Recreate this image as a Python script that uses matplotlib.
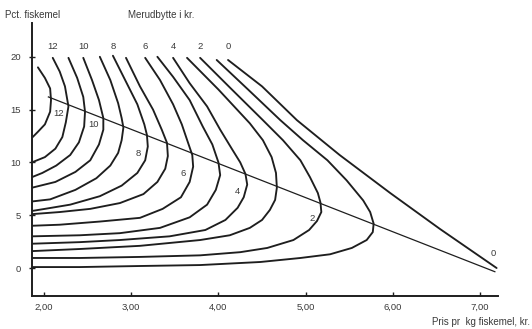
import numpy as np
import matplotlib
matplotlib.use("Agg")
import matplotlib.pyplot as plt

plt.rcParams['font.family'] = ['Liberation Sans', 'DejaVu Sans']

# ---- data, x = price per kg fishmeal (kr), y = pct fishmeal
curve_0 = [(4.11, 19.7), (4.50, 17.2), (4.90, 14.0), (5.39, 10.7), (5.97, 7.1), (6.54, 3.7), (7.19, 0.0)]
curve_1 = [(3.98, 19.7), (4.34, 16.9), (4.71, 14.0), (4.97, 12.1), (5.25, 10.2), (5.47, 8.3), (5.66, 6.4),
           (5.74, 5.3), (5.78, 4.2), (5.77, 3.4), (5.70, 2.65), (5.53, 1.9), (5.28, 1.3), (4.94, 0.95),
           (4.48, 0.57), (3.79, 0.28), (3.10, 0.19), (2.41, 0.09), (1.86, 0.09)]
curve_2 = [(3.79, 19.9), (4.13, 17.1), (4.51, 14.0), (4.74, 12.1), (4.94, 10.2), (5.05, 8.6), (5.14, 7.1),
           (5.17, 6.2), (5.18, 5.3), (5.13, 4.45), (5.04, 3.6), (4.86, 2.65), (4.56, 1.9), (4.25, 1.5),
           (3.79, 1.2), (3.10, 1.05), (2.41, 0.95), (1.86, 0.95)]
curve_3 = [(3.64, 19.9), (4.00, 16.9), (4.36, 13.7), (4.51, 12.1), (4.61, 10.5), (4.66, 9.0), (4.67, 7.6),
           (4.65, 6.45), (4.59, 5.5), (4.50, 4.55), (4.36, 3.8), (4.13, 3.1), (3.79, 2.65), (3.10, 2.1),
           (2.41, 1.8), (1.86, 1.6)]
curve_4 = [(3.48, 19.9), (3.67, 17.5), (3.87, 15.3), (4.02, 13.1), (4.16, 11.2), (4.25, 10.0), (4.31, 8.9),
           (4.33, 7.9), (4.29, 6.7), (4.22, 5.7), (4.08, 4.55), (3.85, 3.6), (3.44, 3.0), (2.87, 2.65),
           (2.41, 2.45), (1.86, 2.3)]
curve_5 = [(3.30, 20.0), (3.48, 18.1), (3.67, 15.9), (3.82, 13.4), (3.93, 11.7), (4.00, 10.0), (4.02, 8.8),
           (3.97, 7.4), (3.87, 6.0), (3.67, 4.8), (3.33, 3.8), (2.87, 3.3), (2.41, 3.1), (1.86, 3.0)]
curve_6 = [(3.16, 19.9), (3.33, 17.8), (3.48, 15.5), (3.58, 13.6), (3.65, 11.9), (3.70, 10.7), (3.71, 9.6),
           (3.67, 8.15), (3.57, 6.7), (3.36, 5.6), (3.10, 4.75), (2.64, 4.4), (2.18, 4.1), (1.86, 4.0)]
curve_7 = [(2.94, 19.9), (3.10, 17.2), (3.25, 15.0), (3.35, 13.1), (3.41, 11.85), (3.42, 10.6), (3.39, 9.4),
           (3.30, 8.15), (3.14, 7.0), (2.87, 6.15), (2.53, 5.6), (2.18, 5.3), (1.86, 5.1)]
curve_8 = [(2.79, 20.1), (2.93, 17.8), (3.07, 15.5), (3.15, 13.6), (3.18, 12.6), (3.19, 11.5), (3.16, 10.2),
           (3.07, 9.0), (2.89, 7.8), (2.64, 6.8), (2.30, 6.0), (2.01, 5.6), (1.86, 5.4)]
curve_9 = [(2.64, 20.0), (2.76, 17.8), (2.85, 15.6), (2.89, 14.2), (2.91, 13.3), (2.89, 12.1), (2.85, 10.9),
           (2.76, 9.7), (2.60, 8.5), (2.36, 7.4), (2.07, 6.5), (1.86, 6.3)]
curve_10 = [(2.45, 19.9), (2.55, 17.8), (2.63, 15.9), (2.68, 14.2), (2.68, 13.1), (2.63, 11.7), (2.53, 10.2),
            (2.36, 9.1), (2.13, 8.15), (1.86, 7.6)]
curve_11 = [(2.28, 19.9), (2.38, 18.0), (2.45, 16.2), (2.47, 14.8), (2.46, 13.4), (2.40, 11.9), (2.30, 10.7),
            (2.14, 9.7), (1.98, 9.0), (1.86, 8.6)]
curve_12 = [(2.10, 19.9), (2.18, 18.6), (2.24, 17.2), (2.28, 15.3), (2.25, 13.8), (2.21, 12.4), (2.13, 11.3),
            (2.01, 10.5), (1.86, 10.0)]
curve_13 = [(1.93, 19.0), (2.01, 18.0), (2.07, 17.0), (2.08, 15.9), (2.07, 14.8), (2.01, 13.6), (1.93, 12.9),
            (1.87, 12.4)]
ridge_line = [(2.05, 16.2), (7.17, -0.35)]

curves = [curve_0, curve_1, curve_2, curve_3, curve_4, curve_5, curve_6, curve_7,
          curve_8, curve_9, curve_10, curve_11, curve_12, curve_13]
labelled = [12, 10, 8, 6, 4, 2, 0]

x_ticks = [2, 3, 4, 5, 6, 7]
x_ticklabels = ["2,00", "3,00", "4,00", "5,00", "6,00", "7,00"]
y_ticks = [0, 5, 10, 15, 20]
y_ticklabels = ["0", "5", "10", "15", "20"]

# ---- figure
W, H = 532, 329
fig = plt.figure(figsize=(W / 100, H / 100), dpi=100)
ax = fig.add_axes([32 / W, (H - 296) / H, (498 - 32) / W, (296 - 23) / H])
ax.set_xlim(1.862, 7.206)
ax.set_ylim(-2.65, 23.2)

ink = "#1e1e1e"
txt = "#3a3a3a"
for c in curves:
    a = np.array(c)
    ax.plot(a[:, 0], a[:, 1], color=ink, lw=1.35, solid_capstyle='round', solid_joinstyle='round')
r = np.array(ridge_line)
ax.plot(r[:, 0], r[:, 1], color=ink, lw=0.9)

# labels at top of curves
for v in labelled:
    x0 = curves[v][0][0]
    ax.text(x0, 20.95, str(v), fontsize=6.8, color=txt, ha='center', va='center')
# labels along the ridge line
for v in labelled:
    c = np.array(curves[v])
    if v == 0:
        ax.text(7.15, 1.4, "0", fontsize=6.8, color=txt, ha='center', va='center')
        continue
    i = np.argmax(c[:, 0])
    ax.text(c[i, 0] - 0.11, c[i, 1] - 0.65, str(v), fontsize=6.8, color=txt,
            ha='center', va='center')

for s in ['top', 'right']:
    ax.spines[s].set_visible(False)
for s in ['left', 'bottom']:
    ax.spines[s].set_color(ink)
    ax.spines[s].set_linewidth(1.4)

ax.set_xticks(x_ticks)
ax.set_xticklabels(x_ticklabels)
ax.set_yticks(y_ticks)
ax.set_yticklabels(y_ticklabels)
ax.tick_params(axis='x', direction='in', length=3, width=1, colors=ink, labelsize=6.8,
               labelcolor=txt, pad=5)
ax.tick_params(axis='y', direction='inout', length=4, width=1, colors=ink, labelsize=6.8,
               labelcolor=txt, pad=6)

fig.text(5 / W, 1 - 15 / H, "Pct. fiskemel", fontsize=7, color=txt, ha='left', va='center')
fig.text(128 / W, 1 - 15 / H, "Merudbytte i kr.", fontsize=7, color=txt, ha='left', va='center')
fig.text(530 / W, 1 - 322 / H, "Pris pr  kg fiskemel, kr.", fontsize=7, color=txt,
         ha='right', va='center')

fig.savefig("out.png", dpi=100, facecolor="white")
